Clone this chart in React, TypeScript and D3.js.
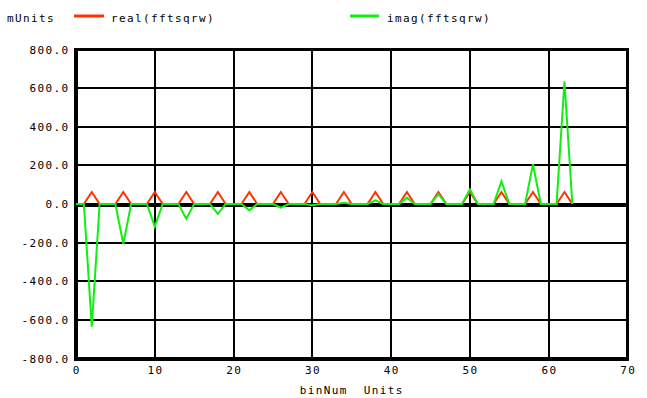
import React from "react";
import * as d3 from "d3";

// FFT of a square wave (fftsqrw), one value per bin, in mUnits
const realValues: number[] = [
  0, 0, 62, 0, 0, 0, 62, 0, 0, 0, 62, 0, 0, 0, 62, 0,
  0, 0, 62, 0, 0, 0, 62, 0, 0, 0, 62, 0, 0, 0, 62, 0,
  0, 0, 62, 0, 0, 0, 62, 0, 0, 0, 62, 0, 0, 0, 62, 0,
  0, 0, 62, 0, 0, 0, 62, 0, 0, 0, 62, 0, 0, 0, 62, 0,
];

const imagValues: number[] = [
  0, 0, -635, 0, 0, 0, -206, 0, 0, 0, -117, 0, 0, 0, -76, 0,
  0, 0, -51, 0, 0, 0, -33, 0, 0, 0, -19, 0, 0, 0, -6, 0,
  0, 0, 6, 0, 0, 0, 19, 0, 0, 0, 33, 0, 0, 0, 51, 0,
  0, 0, 76, 0, 0, 0, 117, 0, 0, 0, 206, 0, 0, 0, 635, 0,
];

const xTicks: number[] = [0, 10, 20, 30, 40, 50, 60, 70];
const yTicks: number[] = [800, 600, 400, 200, 0, -200, -400, -600, -800];

const seriesNames: string[] = ["real(fftsqrw)", "imag(fftsqrw)"];
const seriesColors: string[] = ["#ff3300", "#11ee11"];

const W = 647;
const H = 398;
const FONT = "'DejaVu Sans Mono', monospace";

export default function App() {
  const x = d3.scaleLinear().domain([0, 70]).range([76, 627.5]);
  const y = d3.scaleLinear().domain([-800, 800]).range([358.5, 49.5]);

  const line = d3
    .line<number>()
    .x((_, i) => x(i))
    .y((v) => y(v));

  const textStyle: React.CSSProperties = {
    fontFamily: FONT,
    fontSize: 11,
    letterSpacing: 1.38,
    whiteSpace: "pre",
  };

  const [x0, x1] = x.range();
  const [yb, yt] = y.range();

  return (
    <svg
      width={W}
      height={H}
      style={{ position: "absolute", left: 0, top: 0, background: "#fff" }}
    >
      {/* grid */}
      {xTicks.slice(1, -1).map((t) => (
        <line
          key={"gx" + t}
          x1={x(t)}
          x2={x(t)}
          y1={yt}
          y2={yb}
          stroke="#000"
          strokeWidth={2}
          shapeRendering="crispEdges"
        />
      ))}
      {yTicks.slice(1, -1).map((t) => (
        <line
          key={"gy" + t}
          x1={x0}
          x2={x1}
          y1={y(t)}
          y2={y(t)}
          stroke="#000"
          strokeWidth={t === 0 ? 4 : 2}
          transform={t === 0 ? "translate(0,1)" : undefined}
          shapeRendering="crispEdges"
        />
      ))}

      {/* frame */}
      <line x1={x0} x2={x1 + 1.5} y1={yt} y2={yt} stroke="#000" strokeWidth={3} shapeRendering="crispEdges" />
      <line x1={x1} x2={x1} y1={yt} y2={yb} stroke="#000" strokeWidth={3} shapeRendering="crispEdges" />
      <line x1={x0 - 2} x2={x1 + 1.5} y1={yb} y2={yb} stroke="#000" strokeWidth={4} shapeRendering="crispEdges" />
      <line x1={x0} x2={x0} y1={yt - 1.5} y2={yb} stroke="#000" strokeWidth={4} shapeRendering="crispEdges" />

      {/* series */}
      <path d={line(realValues) || ""} fill="none" stroke={seriesColors[0]} strokeWidth={2} />
      <path d={line(imagValues) || ""} fill="none" stroke={seriesColors[1]} strokeWidth={2} />

      {/* y tick labels */}
      {yTicks.map((t) => (
        <text key={"yl" + t} x={69.5} y={y(t) + 4} textAnchor="end" style={textStyle}>
          {t.toFixed(1)}
        </text>
      ))}

      {/* x tick labels */}
      {xTicks.map((t) => (
        <text key={"xl" + t} x={x(t) + 0.7} y={374} textAnchor="middle" style={textStyle}>
          {String(t)}
        </text>
      ))}

      {/* axis title */}
      <text x={x(35)} y={394} textAnchor="middle" style={textStyle}>
        {"binNum  Units"}
      </text>

      {/* legend */}
      <text x={7} y={22} style={textStyle}>
        mUnits
      </text>
      <line x1={74} x2={104} y1={16} y2={16} stroke={seriesColors[0]} strokeWidth={3} />
      <text x={111} y={22} style={textStyle}>
        {seriesNames[0]}
      </text>
      <line x1={350} x2={379} y1={16} y2={16} stroke={seriesColors[1]} strokeWidth={3} />
      <text x={387} y={22} style={textStyle}>
        {seriesNames[1]}
      </text>
    </svg>
  );
}
